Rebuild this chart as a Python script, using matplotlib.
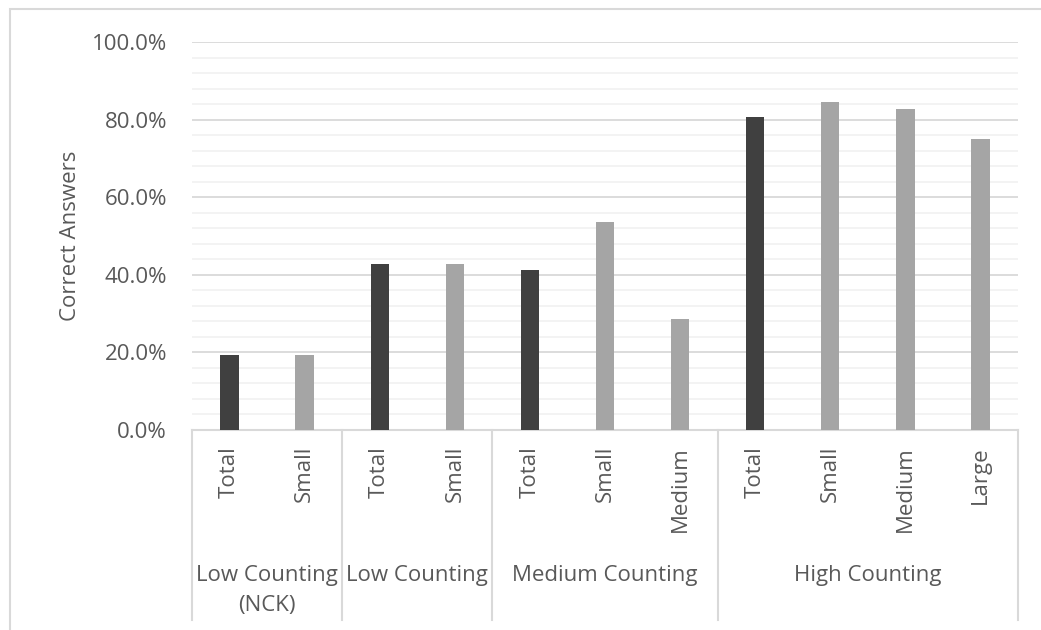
import matplotlib.pyplot as plt
import matplotlib.transforms as mtransforms
from matplotlib.patches import Rectangle
from matplotlib.ticker import FuncFormatter, MultipleLocator

# ------------------------
# DATA
# ------------------------

groups = ["Low Counting\n(NCK)", "Low Counting", "Medium Counting", "High Counting"]
group_sizes = [2, 2, 3, 4]

subcats = ["Total", "Small",
           "Total", "Small",
           "Total", "Small", "Medium",
           "Total", "Small", "Medium", "Large"]

values = [0.194, 0.194,
          0.427, 0.427,
          0.412, 0.537, 0.287,
          0.806, 0.845, 0.827, 0.749]

# ------------------------
# STYLE
# ------------------------

plt.rcParams['font.family'] = ['Open Sans', 'DejaVu Sans']
text_color = '#595959'
dark = '#404040'
light = '#A5A5A5'
fs = 16

fig = plt.figure(figsize=(10.41, 6.30), dpi=100)
fig.patch.set_facecolor('white')
ax = fig.add_axes([192 / 1041, 200 / 630, 826 / 1041, 388 / 630])

# outer chart border
fig.patches.append(Rectangle((10 / 1041, -0.05), 1.1, (630 - 9) / 630 + 0.05,
                             transform=fig.transFigure, fill=False,
                             edgecolor='#D9D9D9', linewidth=1.5, zorder=0))

x = list(range(len(values)))
colors = [dark if s == "Total" else light for s in subcats]
ax.bar(x, values, width=0.245, color=colors, zorder=3)

ax.set_xlim(-0.5, len(values) - 0.5)
ax.set_ylim(0, 1.0)
ax.yaxis.set_major_locator(MultipleLocator(0.2))
ax.yaxis.set_minor_locator(MultipleLocator(0.04))
ax.yaxis.set_major_formatter(FuncFormatter(lambda v, p: f"{v * 100:.1f}%"))
ax.grid(axis='y', which='major', color='#D9D9D9', linewidth=1.3, zorder=0)
ax.grid(axis='y', which='minor', color='#F2F2F2', linewidth=1.3, zorder=0)
ax.tick_params(axis='y', which='both', length=0, pad=18, labelsize=fs,
               labelcolor=text_color)
ax.set_xticks([])
for sp in ['top', 'right', 'left']:
    ax.spines[sp].set_visible(False)
ax.spines['bottom'].set_color('#D9D9D9')
ax.spines['bottom'].set_linewidth(1.5)

ax.set_ylabel("Correct Answers", color=text_color, fontsize=fs, labelpad=8)

# ------------------------
# MULTI-LEVEL CATEGORY AXIS
# ------------------------

trans = mtransforms.blended_transform_factory(ax.transData, ax.transAxes)
px = 1 / 388  # one pixel in axes y units

for xi, s in zip(x, subcats):
    ax.text(xi, -16 * px, s, rotation=90, ha='center', va='top',
            fontsize=fs, color=text_color, transform=trans)

bounds = [-0.5]
for n in group_sizes:
    bounds.append(bounds[-1] + n)
for b in bounds:
    ax.plot([b, b], [0, -190 * px], color='#D9D9D9', linewidth=1.5,
            transform=trans, clip_on=False)

for g, lo, hi in zip(groups, bounds[:-1], bounds[1:]):
    ax.text((lo + hi) / 2, -135 * px, g, ha='center', va='top',
            fontsize=fs, color=text_color, transform=trans, linespacing=1.55)

plt.savefig("out.png", dpi=100)
